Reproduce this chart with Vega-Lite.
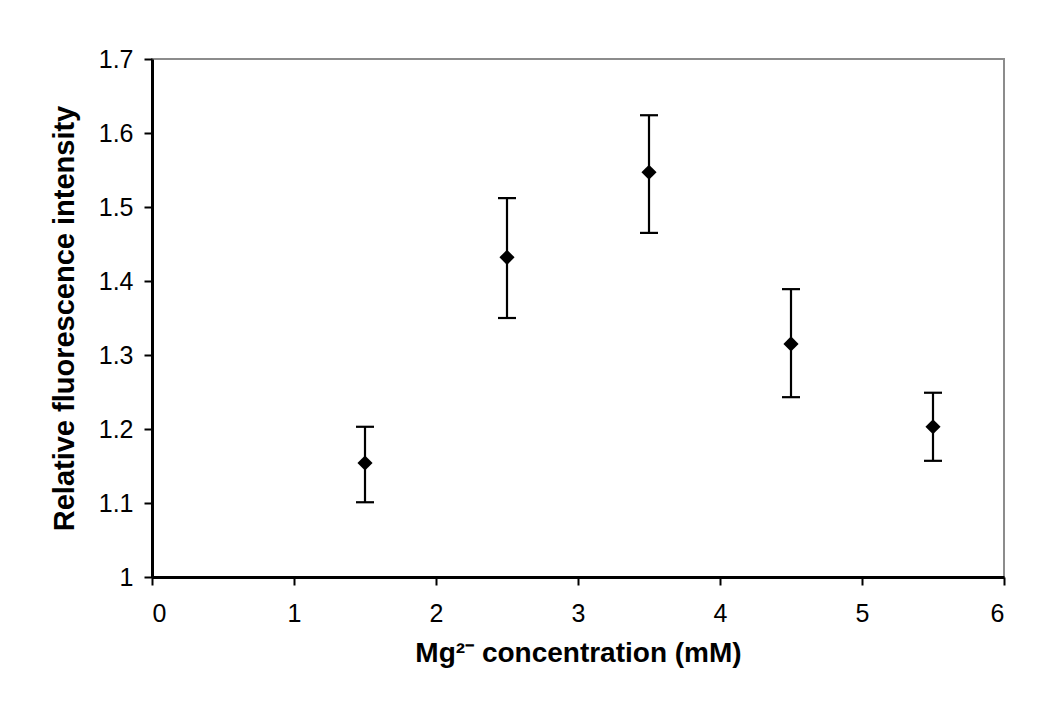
{
  "$schema": "https://vega.github.io/schema/vega-lite/v6.json",
  "width": 852,
  "height": 518,
  "autosize": {"type": "none"},
  "padding": {"left": 152, "top": 59, "right": 46, "bottom": 142},
  "background": "white",
  "data": {
    "values": [
      {"conc": 1.5, "mean": 1.154, "lower": 1.101, "upper": 1.203},
      {"conc": 2.5, "mean": 1.432, "lower": 1.350, "upper": 1.512},
      {"conc": 3.5, "mean": 1.547, "lower": 1.465, "upper": 1.624},
      {"conc": 4.5, "mean": 1.315, "lower": 1.243, "upper": 1.389},
      {"conc": 5.5, "mean": 1.203, "lower": 1.157, "upper": 1.249}
    ]
  },
  "encoding": {
    "x": {
      "field": "conc",
      "type": "quantitative",
      "scale": {"domain": [0, 6], "nice": false, "zero": false},
      "axis": {"values": [0, 1, 2, 3, 4, 5, 6], "title": "Mg²⁻ concentration (mM)", "labelPadding": 16, "titlePadding": 13}
    }
  },
  "layer": [
    {
      "mark": {"type": "rule", "color": "black", "strokeWidth": 2.2},
      "encoding": {
        "y": {
          "field": "lower",
          "type": "quantitative",
          "scale": {"domain": [1, 1.7], "nice": false, "zero": false},
          "axis": {"values": [1, 1.1, 1.2, 1.3, 1.4, 1.5, 1.6, 1.7], "title": "Relative fluorescence intensity", "labelPadding": 11, "titlePadding": 19, "titleFontSize": 29, "format": "~g"}
        },
        "y2": {"field": "upper"}
      }
    },
    {
      "mark": {"type": "tick", "orient": "horizontal", "color": "black", "size": 18, "thickness": 2.2, "opacity": 1},
      "encoding": {"y": {"field": "upper", "type": "quantitative"}}
    },
    {
      "mark": {"type": "tick", "orient": "horizontal", "color": "black", "size": 18, "thickness": 2.2, "opacity": 1},
      "encoding": {"y": {"field": "lower", "type": "quantitative"}}
    },
    {
      "mark": {"type": "point", "shape": "diamond", "filled": true, "color": "black", "size": 230, "opacity": 1},
      "encoding": {"y": {"field": "mean", "type": "quantitative"}}
    }
  ],
  "config": {
    "view": {"stroke": "#8c8c8c", "strokeWidth": 2},
    "axis": {
      "grid": false,
      "domainColor": "black",
      "domainWidth": 3,
      "tickColor": "black",
      "tickWidth": 2,
      "tickSize": 8,
      "labelFont": "Liberation Sans",
      "labelFontSize": 25,
      "labelColor": "black",
      "titleFont": "Liberation Sans",
      "titleFontSize": 28,
      "titleFontWeight": "bold",
      "titleColor": "black"
    }
  }
}
